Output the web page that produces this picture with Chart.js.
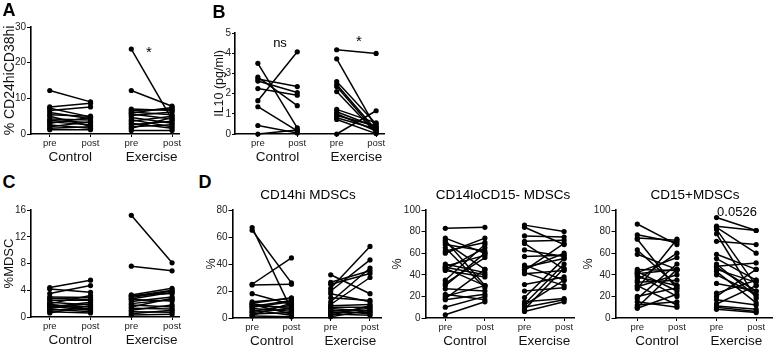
<!DOCTYPE html>
<html lang="en">
<head>
<meta charset="UTF-8" />
<title>Paired pre/post panels</title>
<script src="https://cdn.jsdelivr.net/npm/chart.js@4.4.0/dist/chart.umd.min.js"></script>
<style>
  body { margin: 0; background: #ffffff; }
  #wrap {
    position: relative; width: 778px; height: 345px; overflow: hidden;
    font-family: "Liberation Sans", Arial, sans-serif; color: #000;
  }
  #wrap canvas { position: absolute; }
  .txt {
    position: absolute; white-space: nowrap; line-height: 1;
    transform: translate(-50%, -50%);
  }
  .letter { font-weight: bold; font-size: 18px; }
  .ptitle { font-size: 13.5px; }
  .note { font-size: 13px; }
</style>
</head>
<body>
<div id="wrap">
  <canvas id="chartA"></canvas>
  <canvas id="chartB"></canvas>
  <canvas id="chartC"></canvas>
  <canvas id="chartD1"></canvas>
  <canvas id="chartD2"></canvas>
  <canvas id="chartD3"></canvas>

  <div class="txt letter" style="left:9px;top:10px">A</div>
  <div class="txt letter" style="left:219px;top:12px">B</div>
  <div class="txt letter" style="left:9px;top:182px">C</div>
  <div class="txt letter" style="left:205px;top:182px">D</div>

  <div class="txt ptitle" style="left:308px;top:195px">CD14hi MDSCs</div>
  <div class="txt ptitle" style="left:503px;top:195px">CD14loCD15- MDSCs</div>
  <div class="txt ptitle" style="left:695px;top:195px">CD15+MDSCs</div>

  <div class="txt note" style="left:149px;top:51px;font-size:15px">*</div>
  <div class="txt note" style="left:280px;top:42px">ns</div>
  <div class="txt note" style="left:359px;top:40px;font-size:15px">*</div>
  <div class="txt note" style="left:737px;top:211px">0.0526</div>
</div>

<script>
  // x axis: pre/post for each group
  const xTickVals = [1, 2, 3, 4];
  const xTickLabels = ["pre", "post", "pre", "post"];
  const groupVals = [1.5, 3.5];
  const groupLabels = ["Control", "Exercise"];

  // A - % CD24hiCD38hi
  const aCtrlPre  = [12.2, 7.6, 7.2, 6.6, 6.0, 5.4, 5.0, 4.2, 3.8, 3.4, 3.0, 2.5, 2.0, 1.6, 1.2];
  const aCtrlPost = [9.0, 8.6, 4.8, 7.6, 4.3, 5.0, 2.2, 3.9, 3.2, 2.6, 4.6, 1.6, 3.4, 2.0, 1.2];
  const aExPre    = [23.8, 12.2, 7.0, 6.6, 6.2, 5.6, 5.2, 4.6, 4.0, 3.6, 3.0, 2.6, 2.0, 1.6, 1.0, 5.9];
  const aExPost   = [4.0, 7.8, 6.6, 7.0, 5.4, 4.2, 6.2, 3.0, 2.0, 5.0, 1.6, 3.6, 2.6, 4.6, 1.0, 7.4];

  // B - IL10 (pg/ml)
  const bCtrlPre  = [3.5, 2.82, 2.72, 2.62, 2.25, 1.65, 1.35, 0.42, 0];
  const bCtrlPost = [0.3, 1.4, 2.35, 2.05, 1.92, 4.07, 0.15, 0.05, 0.2];
  const bExPre    = [4.17, 3.72, 2.6, 2.45, 2.35, 2.1, 1.22, 1.1, 1.0, 0.92, 0.8, 0.72, 0];
  const bExPost   = [3.99, 0.3, 0.5, 0.2, 0.1, 0.05, 0.55, 0.35, 0.15, 0.4, 0.25, 0.02, 1.15];

  // C - %MDSC
  const cCtrlPre  = [4.4, 4.2, 3.5, 3.0, 2.8, 2.5, 2.2, 2.0, 1.9, 1.8, 1.6, 1.5, 1.3, 1.2, 1.0, 0.8, 0.6];
  const cCtrlPost = [5.5, 3.7, 4.7, 2.9, 2.6, 2.5, 1.8, 3.2, 1.1, 1.5, 1.0, 2.2, 2.0, 0.8, 1.3, 0.6, 1.7];
  const cExPre    = [15.2, 7.6, 3.3, 3.2, 3.1, 2.9, 2.7, 2.6, 2.3, 2.0, 1.8, 1.5, 1.3, 1.0, 0.8, 0.5, 0.3];
  const cExPost   = [8.1, 6.9, 4.3, 3.5, 4.0, 3.9, 3.7, 2.4, 3.0, 2.6, 1.5, 2.8, 1.2, 1.8, 0.7, 1.0, 0.4];

  // D - CD14hi MDSCs
  const d1CtrlPre  = [67, 65, 25, 24.5, 18, 12, 11, 10.5, 10, 9, 8.5, 8, 7, 6, 5, 4, 3, 2, 1.5];
  const d1CtrlPost = [6, 26, 44.5, 25, 10, 14.5, 15, 6.5, 3, 8, 13, 12, 5, 2, 9.5, 7, 4, 11, 1];
  const d1ExPre    = [32, 26.5, 25, 22, 20, 18, 15, 12, 10, 9, 8, 7, 6, 5, 4, 3, 2, 1];
  const d1ExPost   = [18, 35, 33, 53, 43, 12, 13, 37, 30, 10, 8, 5, 3, 7, 4, 2, 9, 6];

  // D - CD14loCD15- MDSCs
  const d2CtrlPre  = [83, 74, 72, 70, 68, 65, 62, 60, 50, 48, 47, 46, 45, 44, 35, 32, 30, 27, 22, 20, 18, 17, 10, 3];
  const d2CtrlPost = [84, 60, 30, 45, 62, 28, 70, 74, 42, 58, 40, 30, 65, 38, 68, 56, 60, 25, 17, 30, 45, 22, 20, 15];
  const d2ExPre    = [86, 84, 76, 71, 69, 63, 57, 49, 47, 45, 44, 42, 41, 31, 25, 19, 15, 13, 12, 10, 8, 6];
  const d2ExPost   = [80, 68, 75, 72, 45, 57, 58, 35, 55, 60, 69, 30, 44, 38, 28, 55, 18, 50, 35, 17, 46, 15];

  // D - CD15+MDSCs
  const d3CtrlPre  = [87, 77, 74, 73, 63, 59, 45, 43, 42, 41, 40, 38, 35, 33, 30, 29, 27, 20, 18, 15, 12, 10, 9];
  const d3CtrlPost = [68, 70, 72, 27, 30, 45, 44, 25, 56, 45, 20, 30, 60, 35, 12, 40, 73, 28, 50, 10, 15, 45, 22];
  const d3ExPre    = [93, 85, 84, 82, 78, 71, 59, 55, 50, 48, 47, 45, 43, 40, 32, 23, 20, 17, 13, 11, 10, 8];
  const d3ExPost   = [81, 81, 60, 30, 18, 68, 45, 35, 20, 51, 25, 33, 14, 22, 25, 35, 45, 12, 30, 8, 6, 5];

  const FONT = "'Liberation Sans', Arial, sans-serif";

  // one dataset per subject, pre -> post
  function pairs(pre, post, x0) {
    return pre.map((v, i) => ({
      data: [{ x: x0, y: v }, { x: x0 + 1, y: post[i] }],
      borderColor: "#000",
      backgroundColor: "#000",
      borderWidth: 1.5,
      pointRadius: 2.6,
      pointBorderWidth: 0,
      clip: false,
    }));
  }

  function panel(id, p, sets) {
    const cv = document.getElementById(id);
    const left = p.axisX - p.yw;
    const top = p.top - 8;
    const w = p.right - left + 3;
    const h = p.bottom - p.top + 8 + 36;
    cv.style.left = left + "px";
    cv.style.top = top + "px";
    cv.width = w;
    cv.height = h;

    const datasets = pairs(sets[0], sets[1], 1).concat(pairs(sets[2], sets[3], 3));

    new Chart(cv, {
      type: "line",
      data: { datasets: datasets },
      options: {
        responsive: false,
        animation: false,
        layout: { padding: { top: 8, right: 3, left: 0, bottom: 0 } },
        plugins: { legend: { display: false }, tooltip: { enabled: false } },
        scales: {
          x: {
            type: "linear",
            min: p.xmin,
            max: p.xmax,
            weight: 0,
            border: { display: true, color: "#000", width: 1.6 },
            grid: { drawOnChartArea: false, drawTicks: true, tickLength: 3, color: "#000", lineWidth: 1 },
            afterBuildTicks: (s) => { s.ticks = xTickVals.map((v) => ({ value: v })); },
            ticks: {
              autoSkip: false, maxRotation: 0, padding: 1,
              color: "#222", font: { family: FONT, size: 9.5 },
              callback: (v) => xTickLabels[xTickVals.indexOf(v)],
            },
            afterFit: (s) => { s.height = 15; s.paddingLeft = 0; s.paddingRight = 0; },
          },
          x2: {
            type: "linear",
            position: "bottom",
            min: p.xmin,
            max: p.xmax,
            weight: 1,
            border: { display: false },
            grid: { display: false, drawTicks: false },
            afterBuildTicks: (s) => { s.ticks = groupVals.map((v) => ({ value: v })); },
            ticks: {
              autoSkip: false, maxRotation: 0, padding: 0,
              color: "#111", font: { family: FONT, size: 13.5 },
              callback: (v) => groupLabels[groupVals.indexOf(v)],
            },
            afterFit: (s) => { s.height = 20; s.paddingLeft = 0; s.paddingRight = 0; },
          },
          y: {
            min: 0,
            max: p.ymax,
            border: { display: true, color: "#000", width: 1.6 },
            grid: { drawOnChartArea: false, drawTicks: true, tickLength: p.tl || 4, color: "#000", lineWidth: 1 },
            ticks: { stepSize: p.step, padding: 1, color: "#222", font: { family: FONT, size: 10 } },
            title: {
              display: true, text: p.title, color: "#111",
              padding: { top: 2, bottom: 0 },
              font: { family: FONT, size: p.tsize },
            },
            afterFit: (s) => { s.width = p.yw; s.paddingTop = 0; s.paddingBottom = 0; },
          },
        },
      },
    });
  }

  panel("chartA",  { axisX: 31,  top: 27,  bottom: 133, right: 180, yw: 31,   xmin: 0.54, xmax: 4.17, ymax: 30,  step: 10, title: "% CD24hiCD38hi", tsize: 14 },
    [aCtrlPre, aCtrlPost, aExPre, aExPost]);
  panel("chartB",  { axisX: 235, top: 33,  bottom: 133, right: 385, yw: 25,   xmin: 0.42, xmax: 4.2,  ymax: 5,   step: 1,  title: "IL10 (pg/ml)", tsize: 12.5, tl: 3 },
    [bCtrlPre, bCtrlPost, bExPre, bExPost]);
  panel("chartC",  { axisX: 31,  top: 210, bottom: 316, right: 180, yw: 31,   xmin: 0.54, xmax: 4.17, ymax: 16,  step: 4,  title: "%MDSC", tsize: 13 },
    [cCtrlPre, cCtrlPost, cExPre, cExPost]);
  panel("chartD1", { axisX: 232, top: 210, bottom: 317, right: 382, yw: 30.5, xmin: 0.5,  xmax: 4.28, ymax: 80,  step: 20, title: "%", tsize: 12.5 },
    [d1CtrlPre, d1CtrlPost, d1ExPre, d1ExPost]);
  panel("chartD2", { axisX: 425, top: 210, bottom: 317, right: 575, yw: 37.5, xmin: 0.5,  xmax: 4.25, ymax: 100, step: 20, title: "%", tsize: 12.5 },
    [d2CtrlPre, d2CtrlPost, d2ExPre, d2ExPost]);
  panel("chartD3", { axisX: 615, top: 210, bottom: 317, right: 773, yw: 36.5, xmin: 0.45, xmax: 4.4,  ymax: 100, step: 20, title: "%", tsize: 12.5 },
    [d3CtrlPre, d3CtrlPost, d3ExPre, d3ExPost]);
</script>
</body>
</html>
